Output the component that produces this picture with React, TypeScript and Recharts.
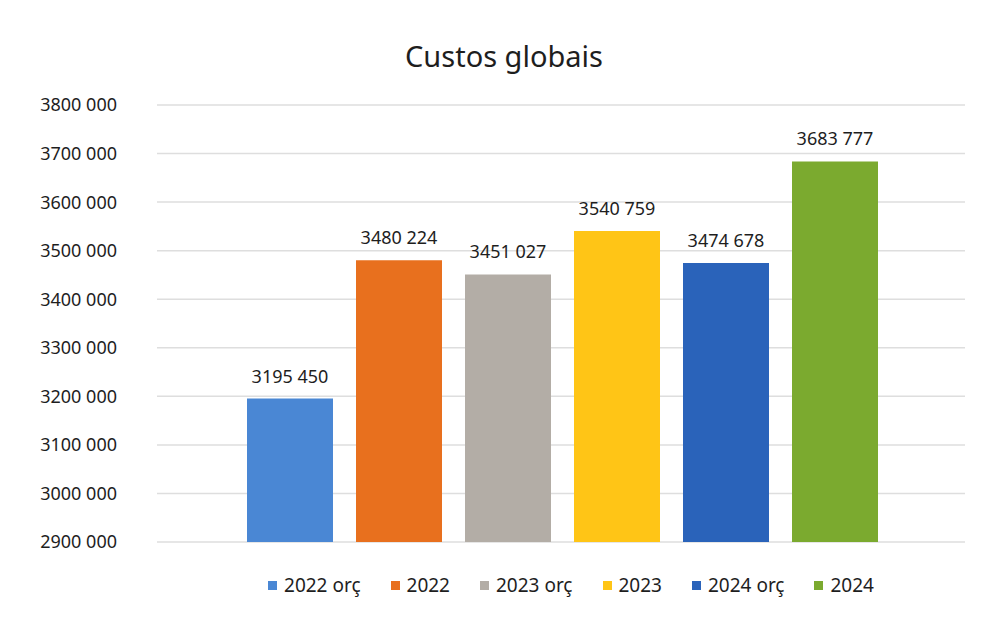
import { BarChart, Bar, XAxis, YAxis, CartesianGrid, Legend, LabelList } from "recharts";

const seriesNames = ["2022 orç", "2022", "2023 orç", "2023", "2024 orç", "2024"];
const seriesValues = [3195450, 3480224, 3451027, 3540759, 3474678, 3683777];
const yTicks = [2900000, 3000000, 3100000, 3200000, 3300000, 3400000, 3500000, 3600000, 3700000, 3800000];

const COLORS = ["#4a87d4", "#e8701e", "#b3ada6", "#ffc516", "#2a63ba", "#7baa2f"];
const FONT = "'Noto Sans', 'Open Sans', sans-serif";
const TEXT = "#1e1e1e";

// "3800 000" style: thousands part kept together, last group split by a space
function formatValue(v: number) {
  const s = Math.round(v).toString();
  if (s.length <= 3) return s;
  return s.slice(0, -3) + " " + s.slice(-3);
}

const row: Record<string, string | number> = { name: "Custos globais" };
seriesNames.forEach((n, i) => {
  row[n] = seriesValues[i];
});
const data = [row];

function LegendContent({ payload }: { payload?: Array<{ value: string; color: string }> }) {
  if (!payload) return null;
  // keep the series order, recharts sorts legend items by name
  const items = [...payload].sort((a, b) => seriesNames.indexOf(a.value) - seriesNames.indexOf(b.value));
  return (
    <div
      style={{
        display: "flex",
        justifyContent: "center",
        gap: 30,
        fontFamily: FONT,
        fontSize: 19,
        color: TEXT,
        paddingLeft: 140,
      }}
    >
      {items.map((p, i) => (
        <div key={i} style={{ display: "flex", alignItems: "center", gap: 7 }}>
          <span style={{ width: 9, height: 9, background: p.color, display: "inline-block" }} />
          <span>{p.value}</span>
        </div>
      ))}
    </div>
  );
}

export default function App() {
  return (
    <div style={{ position: "absolute", left: 0, top: 0, width: 982, height: 618, background: "#fff" }}>
      <div
        style={{
          position: "absolute",
          top: 36,
          width: 982,
          left: 13,
          textAlign: "center",
          fontFamily: FONT,
          fontSize: 29,
          color: TEXT,
        }}
      >
        Custos globais
      </div>
      <BarChart
        width={982}
        height={618}
        data={data}
        margin={{ top: 105, right: 17, bottom: 50, left: 37 }}
        barCategoryGap={90}
        barGap={23}
      >
        <CartesianGrid horizontal vertical={false} stroke="#dedede" strokeWidth={1.5} />
        <XAxis dataKey="name" hide />
        <YAxis
          domain={[2900000, 3800000]}
          ticks={yTicks}
          width={120}
          axisLine={false}
          tickLine={false}
          tickSize={0}
          tickMargin={40}
          tickFormatter={formatValue}
          tick={{ fill: TEXT, fontSize: 18, fontFamily: FONT }}
        />
        <Legend verticalAlign="bottom" wrapperStyle={{ bottom: 20 }} content={<LegendContent />} />
        {seriesNames.map((n, i) => (
          <Bar key={n} dataKey={n} name={n} fill={COLORS[i]} isAnimationActive={false}>
            <LabelList
              dataKey={n}
              position="top"
              offset={16}
              formatter={(v: number) => formatValue(v)}
              style={{ fill: TEXT, fontSize: 18, fontFamily: FONT }}
            />
          </Bar>
        ))}
      </BarChart>
    </div>
  );
}
